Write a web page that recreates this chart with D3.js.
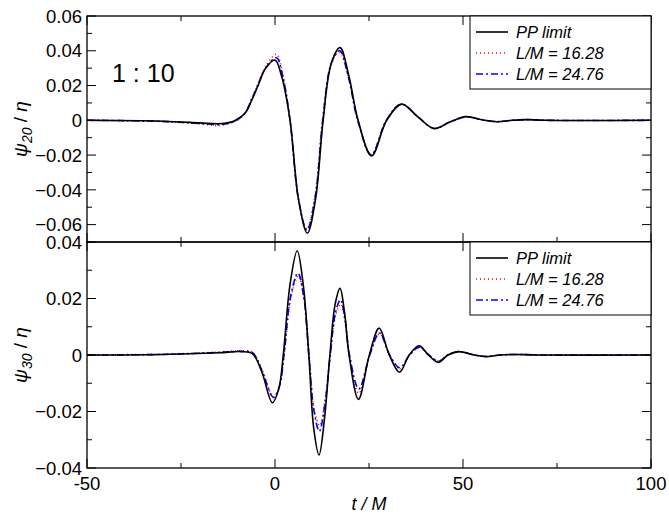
<!DOCTYPE html>
<html><head><meta charset="utf-8">
<script src="https://cdn.jsdelivr.net/npm/d3@7"></script>
<style>body{margin:0;background:#fff}text{font-family:"Liberation Sans",Arial,sans-serif}</style>
</head><body><div id="vis"></div>
<script>
// waveform key points: [t/M, value]
var ppTop = [[-50,0],[-30,-0.0005],[-20,-0.0015],[-15,-0.002],[-12,-0.0012],[-10.5,0],[-8,0.004],[-6.3,0.011],[-4.5,0.020],[-2.5,0.030],[0,0.0347],[1.8,0.025],[4,0],[6.3,-0.046],[8.6,-0.065],[10.8,-0.045],[12.8,0],[15,0.033],[17.3,0.0418],[19.6,0.026],[22.1,0],[25.7,-0.0205],[29.7,0],[33.7,0.0093],[38,0.002],[42.3,-0.0047],[46.5,-0.001],[50.8,0.0021],[55,0.0003],[59,-0.0008],[63,0],[67,0.0004],[72,0],[100,0]];
var l16Top = [[-50,0],[-30,-0.0007],[-20,-0.002],[-15,-0.003],[-12,-0.0017],[-10.5,-0.0005],[-8,0.004],[-6.3,0.012],[-4.5,0.021],[-2.5,0.031],[0.4,0.038],[2,0.027],[4,0],[6.2,-0.045],[8.4,-0.063],[10.6,-0.044],[12.6,0],[14.9,0.032],[17.1,0.039],[19.5,0.025],[22,0],[25.6,-0.0195],[29.6,0],[33.6,0.0093],[38,0.002],[42.3,-0.0047],[46.5,-0.001],[50.8,0.002],[55,0.0003],[59,-0.0008],[63,0],[67,0.0004],[72,0],[100,0]];
var l24Top = [[-50,0],[-30,-0.0006],[-20,-0.0018],[-15,-0.0025],[-12,-0.0015],[-10.5,-0.0003],[-8,0.004],[-6.3,0.0115],[-4.5,0.0205],[-2.5,0.030],[0.4,0.036],[2,0.026],[4,0],[6.2,-0.045],[8.5,-0.063],[10.7,-0.044],[12.7,0],[15,0.033],[17.2,0.040],[19.5,0.025],[22,0],[25.6,-0.0198],[29.6,0],[33.6,0.0093],[38,0.002],[42.3,-0.0047],[46.5,-0.001],[50.8,0.002],[55,0.0003],[59,-0.0008],[63,0],[67,0.0004],[72,0],[100,0]];

var ppBot = [[-50,0],[-30,0.0002],[-15,0.0008],[-9,0.0012],[-6,0.0005],[-3.5,-0.006],[-0.7,-0.0169],[1,-0.012],[2.2,0],[4,0.025],[5.9,0.0369],[7.5,0.025],[9,0],[10.3,-0.026],[11.7,-0.0354],[13.2,-0.022],[14.6,0],[16,0.018],[17.3,0.0236],[18.5,0.015],[19.7,0],[22.2,-0.0157],[25.1,0],[27.7,0.0095],[30.4,0],[33.1,-0.0061],[35.7,0],[38.3,0.0033],[40.8,0],[43.4,-0.0026],[46,0],[48.8,0.0012],[53,0],[56,-0.0006],[60,0],[64,0.0002],[70,0],[100,0]];
var l16Bot = [[-50,0],[-30,0.0003],[-15,0.001],[-9,0.0015],[-6,0.001],[-3.5,-0.005],[-0.4,-0.015],[1.2,-0.011],[2.4,0],[4.2,0.02],[6.2,0.028],[7.7,0.02],[9.1,0],[10.4,-0.019],[11.9,-0.025],[13.3,-0.016],[14.7,0],[16.1,0.014],[17.5,0.018],[18.6,0.012],[19.8,0],[22.3,-0.0135],[25.2,0],[27.8,0.0075],[30.5,0],[33.2,-0.005],[35.8,0],[38.4,0.0028],[40.9,0],[43.5,-0.0022],[46,0],[48.9,0.0012],[53,0],[56,-0.0005],[60,0],[64,0.0002],[70,0],[100,0]];
var l24Bot = [[-50,0],[-30,0.0002],[-15,0.0009],[-9,0.0013],[-6,0.0008],[-3.5,-0.0055],[-0.4,-0.015],[1.2,-0.011],[2.4,0],[4.2,0.021],[6.1,0.029],[7.6,0.021],[9,0],[10.4,-0.02],[11.8,-0.027],[13.3,-0.017],[14.7,0],[16.1,0.015],[17.4,0.0195],[18.6,0.013],[19.8,0],[22.3,-0.012],[25.2,0],[27.8,0.0078],[30.5,0],[33.2,-0.0045],[35.8,0],[38.4,0.0028],[40.9,0],[43.5,-0.0022],[46,0],[48.9,0.0012],[53,0],[56,-0.0005],[60,0],[64,0.0002],[70,0],[100,0]];

var seriesNames = ["PP limit", "L/M = 16.28", "L/M = 24.76"];
var xTicks = [-50, 0, 50, 100];
var topTicks = [0.06, 0.04, 0.02, 0, -0.02, -0.04, -0.06];
var botTicks = [0.04, 0.02, 0, -0.02, -0.04];

var styles = [
  {color: "#000", dash: null, w: 1.6},
  {color: "#ff0000", dash: "1,3", w: 1.6},
  {color: "#0000ff", dash: "7,3,2,3", w: 1.6}
];

var svg = d3.select("#vis").append("svg").attr("width", 669).attr("height", 514);
var x = d3.scaleLinear().domain([-50, 100]).range([87, 651]);

function panel(y, ticks, minorStep, data, label, showX) {
  var g = svg.append("g");
  var y0 = y.range()[0], y1 = y.range()[1];
  var line = d3.line().x(d => x(d[0])).y(d => y(d[1])).curve(d3.curveCatmullRom.alpha(0.5));
  // red, blue, then black on top
  [1, 2, 0].forEach(function (i) {
    g.append("path").datum(data[i]).attr("d", line).attr("fill", "none")
      .attr("stroke", styles[i].color).attr("stroke-width", styles[i].w)
      .attr("stroke-dasharray", styles[i].dash);
  });
  var dom = y.domain();
  var minor = d3.range(Math.ceil(dom[0] / minorStep - 1e-6), Math.floor(dom[1] / minorStep + 1e-6) + 1).map(k => k * minorStep);
  minor.forEach(function (v) {
    var major = ticks.some(t => Math.abs(t - v) < 1e-9);
    var len = major ? 9 : 5;
    g.append("line").attr("x1", 87).attr("x2", 87 + len).attr("y1", y(v)).attr("y2", y(v)).attr("stroke", "#000");
    g.append("line").attr("x1", 651).attr("x2", 651 - len).attr("y1", y(v)).attr("y2", y(v)).attr("stroke", "#000");
  });
  d3.range(-50, 101, 25).forEach(function (t) {
    var len = (t % 50 === 0) ? 9 : 5;
    g.append("line").attr("x1", x(t)).attr("x2", x(t)).attr("y1", y0).attr("y2", y0 - len).attr("stroke", "#000");
    g.append("line").attr("x1", x(t)).attr("x2", x(t)).attr("y1", y1).attr("y2", y1 + len).attr("stroke", "#000");
  });
  ticks.forEach(function (v) {
    g.append("text").attr("x", 82).attr("y", y(v)).attr("dy", "0.36em").attr("text-anchor", "end")
      .attr("font-size", 18.5).text(v === 0 ? "0" : d3.format(".2f")(v));
  });
  g.append("rect").attr("x", 87).attr("y", y1).attr("width", 564).attr("height", y0 - y1)
    .attr("fill", "none").attr("stroke", "#000").attr("stroke-width", 1.3);
  var yl = g.append("text").attr("transform", "translate(27," + ((y0 + y1) / 2) + ") rotate(-90)")
    .attr("text-anchor", "middle").attr("font-size", 19);
  yl.append("tspan").attr("font-style", "italic").text("\u03c8");
  yl.append("tspan").attr("font-style", "italic").attr("font-size", 14).attr("dy", 5).text(label);
  yl.append("tspan").attr("dy", -5).text(" / ");
  yl.append("tspan").attr("font-style", "italic").text("\u03b7");
  var lg = g.append("g").attr("transform", "translate(470," + y1 + ")");
  lg.append("rect").attr("width", 181).attr("height", 73).attr("fill", "#fff").attr("stroke", "#000");
  seriesNames.forEach(function (n, i) {
    var yy = 16 + i * 21;
    lg.append("line").attr("x1", 6).attr("x2", 38).attr("y1", yy).attr("y2", yy)
      .attr("stroke", styles[i].color).attr("stroke-width", styles[i].w).attr("stroke-dasharray", styles[i].dash);
    lg.append("text").attr("x", 46).attr("y", yy).attr("dy", "0.36em").attr("font-size", 16.5)
      .attr("font-style", "italic").text(n);
  });
  if (showX) {
    xTicks.forEach(function (t) {
      g.append("text").attr("x", x(t)).attr("y", y0 + 22).attr("text-anchor", "middle").attr("font-size", 18.5).text(t);
    });
  }
}

var yTop = d3.scaleLinear().domain([-0.07, 0.06]).range([242, 16]);
var yBot = d3.scaleLinear().domain([-0.04, 0.04]).range([468, 242]);
panel(yTop, topTicks, 0.01, [ppTop, l16Top, l24Top], "20", false);
panel(yBot, botTicks, 0.01, [ppBot, l16Bot, l24Bot], "30", true);

svg.append("text").attr("x", 112).attr("y", 82).attr("font-size", 25).text("1 : 10");
svg.append("text").attr("x", x(25)).attr("y", 510).attr("text-anchor", "middle").attr("font-size", 18)
  .attr("font-style", "italic").text("t / M");
</script></body></html>
